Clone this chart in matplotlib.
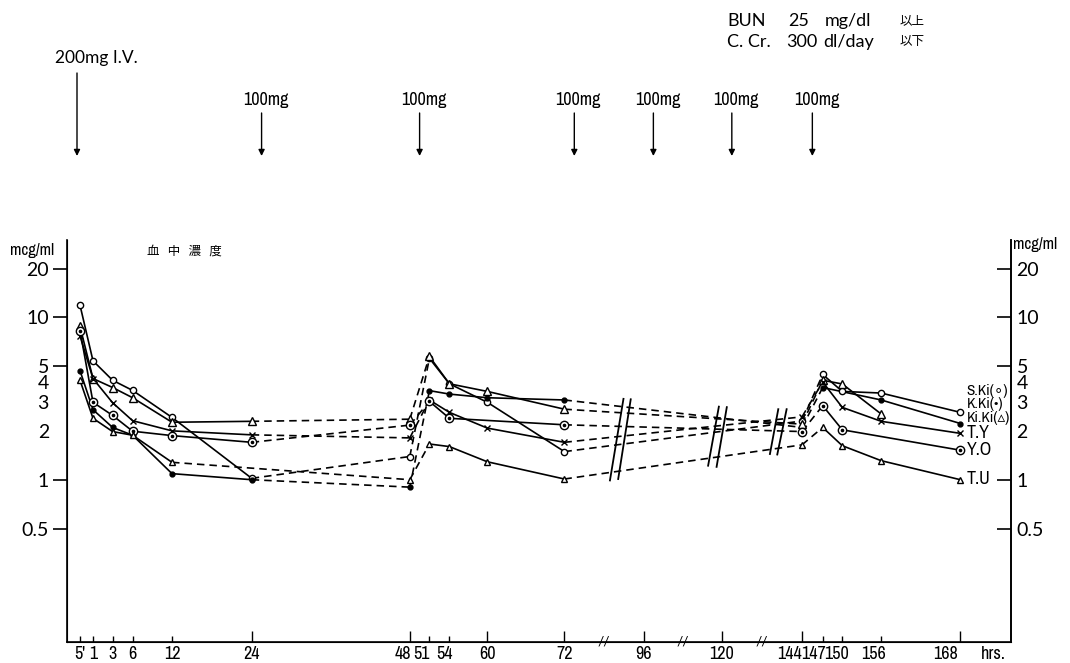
import numpy as np
import matplotlib
matplotlib.use("Agg")
import matplotlib.pyplot as plt
from matplotlib.transforms import blended_transform_factory
from matplotlib import font_manager
import logging
logging.getLogger('matplotlib.font_manager').setLevel(logging.ERROR)

plt.rcParams['font.family'] = ['Lato', 'Noto Sans CJK JP', 'DejaVu Sans']

# look for a narrow/condensed face for the crowded labels
NARROW_FACE = None
for f in font_manager.fontManager.ttflist:
    nm = f.name.lower()
    if ('narrow' in nm or 'condensed' in nm) and f.style == 'normal':
        NARROW_FACE = (f.name, 'normal')
        break
if NARROW_FACE is None:
    for f in font_manager.fontManager.ttflist:
        if str(f.stretch) in ('condensed', 'semi-condensed', 'extra-condensed') and f.style == 'normal':
            NARROW_FACE = (f.name, f.stretch)
            break
if NARROW_FACE is None:
    NARROW_FACE = ('Lato', 'normal')
NARROW = dict(family=[NARROW_FACE[0], 'Lato', 'DejaVu Sans'], stretch=NARROW_FACE[1])

# ---------------- data (hours, mcg/ml) ----------------
MIN5 = 5 / 60
t_ski = [MIN5, 1, 3, 6, 12, 24, 48, 51, 54, 60, 72, 144, 147, 150, 156, 168]
v_ski = [11.9, 5.4, 4.1, 3.55, 2.42, 1.02, 1.39, 5.6, 3.9, 3.0, 1.49, 2.3, 4.45, 3.5, 3.42, 2.6]

t_kki = [MIN5, 1, 3, 6, 12, 24, 48, 51, 54, 60, 72, 144, 147, 156, 168]
v_kki = [4.7, 2.7, 2.1, 1.88, 1.09, 1.0, 0.9, 3.54, 3.37, 3.2, 3.1, 2.1, 3.7, 3.1, 2.22]

t_kiki = [MIN5, 1, 3, 6, 12, 24, 48, 51, 54, 60, 72, 144, 147, 150, 156]
v_kiki = [8.8, 4.2, 3.7, 3.2, 2.26, 2.29, 2.36, 5.75, 3.9, 3.5, 2.72, 2.2, 4.1, 3.89, 2.54]

t_ty = [MIN5, 1, 3, 6, 12, 24, 48, 51, 54, 60, 72, 144, 147, 150, 156, 168]
v_ty = [7.7, 4.2, 2.98, 2.31, 2.0, 1.89, 1.81, 3.1, 2.6, 2.08, 1.70, 2.44, 4.0, 2.79, 2.29, 1.93]

t_yo = [MIN5, 1, 3, 6, 12, 24, 48, 51, 54, 72, 144, 147, 150, 168]
v_yo = [8.3, 3.0, 2.49, 1.99, 1.87, 1.70, 2.17, 3.04, 2.39, 2.18, 1.98, 2.86, 2.03, 1.52]

t_tu = [MIN5, 1, 3, 6, 12, 48, 51, 54, 60, 72, 144, 147, 150, 156, 168]
v_tu = [4.1, 2.39, 1.98, 1.88, 1.28, 1.0, 1.66, 1.6, 1.29, 1.01, 1.64, 2.1, 1.62, 1.31, 1.0]

legend_labels = ["S.Ki(∘)", "K.Ki(•)", "Ki.Ki(▵)", "T.Y", "Y.O", "T.U"]
legend_y = [3.53, 2.94, 2.41, 1.95, 1.53, 1.01]

x_tick_hours = [MIN5, 1, 3, 6, 12, 24, 48, 51, 54, 60, 72, 96, 120, 144, 147, 150, 156, 168]
x_tick_labels = ["5'", "1", "3", "6", "12", "24", "48", "51", "54", "60", "72", "96", "120",
                 "144", "147", "150", "156", "168"]
x_major_hours = [24, 48, 60, 72, 96, 120, 144, 168]
# hand-lettered labels sit a little left of some ticks (pixels)
x_label_shift = {48: -7, 51: -8, 54: -5, 144: -12, 147: -9, 150: -6, 156: -8, 168: -15}

y_major = [0.5, 1, 5, 10, 20]
y_major_labels = ['0.5', '1', '5', '10', '20']
y_minor = [2, 3, 4]
y_minor_labels = ['2', '3', '4']

dose_hours = [0, 25.5, 49.5, 75, 99, 123, 145.5]
dose_labels = ["200mg I.V.", "100mg", "100mg", "100mg", "100mg", "100mg", "100mg"]

# segments within these windows are solid, else dashed
solid_windows = [(0, 24), (51, 72), (147, 168)]

# axis break marks (hours)
axis_breaks = [84, 108, 132]
slash_lines = [((85.8, 0.99), (89.9, 3.15)), ((88.3, 1.01), (92.1, 3.13)),
               ((115.8, 1.22), (119.1, 2.82)), ((118.4, 1.20), (121.5, 2.80)),
               ((134.4, 1.44), (136.9, 2.72)), ((136.6, 1.43), (139.4, 2.72))]

# piecewise (broken) time axis
anchor_h = [-0.5, 0, MIN5, 1, 3, 6, 12, 24, 48, 51, 54, 60, 72, 96, 120, 144, 147, 150, 156, 168, 176]
anchor_p = [67, 77, 80, 93, 112.6, 132.6, 172, 251.7, 409.8, 429.4, 449.4, 487.3, 564.4,
            643.6, 721.8, 802, 822.7, 842.3, 881.2, 960.4, 1011]


def fwd(x):
    return np.interp(x, anchor_h, anchor_p)


def inv(p):
    return np.interp(p, anchor_p, anchor_h)


W, H = 1070, 663
fig = plt.figure(figsize=(W / 100, H / 100), dpi=100)
ax = fig.add_axes([67 / W, 1 - 642 / H, (1011 - 67) / W, (642 - 240) / H])
ax.set_xscale('function', functions=(fwd, inv))
ax.set_yscale('log')
ax.set_xlim(-0.5, 176)
ax.set_ylim(0.1, 30)

for s in ['left', 'right', 'bottom']:
    ax.spines[s].set_linewidth(1.2)
ax.spines['top'].set_visible(False)

LW = 1.2
DASH = (0, (4.5, 3))


def is_solid(a, b):
    return any(lo <= a <= hi and lo <= b <= hi for lo, hi in solid_windows)


series = [
    (t_ski, v_ski, dict(marker='o', ms=4.5, mfc='white')),
    (t_kki, v_kki, dict(marker='o', ms=3.5, mfc='black')),
    (t_kiki, v_kiki, dict(marker='^', ms=6, mfc='white')),
    (t_ty, v_ty, dict(marker='x', ms=5, mfc='black')),
    (t_yo, v_yo, dict(marker='o', ms=6, mfc='white')),
    (t_tu, v_tu, dict(marker='^', ms=4.5, mfc='white')),
]

for t, v, mk in series:
    for i in range(len(t) - 1):
        ls = '-' if is_solid(t[i], t[i + 1]) else DASH
        ax.plot([t[i], t[i + 1]], [v[i], v[i + 1]], color='black', lw=LW, ls=ls,
                solid_capstyle='butt', zorder=2)
    ax.plot(t, v, ls='none', color='black', mec='black', mew=1.0, zorder=3, **mk)

# center dots for Y.O
ax.plot(t_yo, v_yo, ls='none', marker='o', ms=1.6, color='black', zorder=4)

for (h0, v0), (h1, v1) in slash_lines:
    ax.plot([h0, h1], [v0, v1], color='black', lw=1.3, zorder=2)

# y ticks (left: outward, right: inward)
ax.set_yticks(y_major)
ax.set_yticklabels(y_major_labels)
ax.set_yticks(y_minor, minor=True)
ax.set_yticklabels(y_minor_labels, minor=True)
ax.tick_params(axis='y', which='major', direction='out', length=10, width=1.2,
               labelsize=14, pad=3)
ax.tick_params(axis='y', which='minor', length=0, labelsize=14, pad=13)

ax2 = ax.twinx()
ax2.set_yscale('log')
ax2.set_ylim(0.1, 30)
ax2.spines['top'].set_visible(False)
ax2.spines['right'].set_linewidth(1.2)
ax2.set_yticks(y_major)
ax2.set_yticklabels(y_major_labels)
ax2.set_yticks(y_minor, minor=True)
ax2.set_yticklabels(y_minor_labels, minor=True)
ax2.tick_params(axis='y', which='major', direction='in', length=10, width=1.2,
                labelsize=14, pad=4)
ax2.tick_params(axis='y', which='minor', length=0, labelsize=14, pad=4)

# x ticks (marks from the axis, labels drawn as texts so they can follow the hand lettering)
minor_h = [h for h in x_tick_hours if h not in x_major_hours]
ax.set_xticks(x_major_hours)
ax.set_xticks(minor_h, minor=True)
ax.tick_params(axis='x', which='both', labelbottom=False)
ax.tick_params(axis='x', which='major', direction='in', length=8, width=1.0)
ax.tick_params(axis='x', which='minor', direction='in', length=4, width=1.0)

xl_size = 13 if NARROW_FACE[0] != 'Lato' else 10
for h, lab in zip(x_tick_hours, x_tick_labels):
    ax.annotate(lab, xy=(h, 0), xycoords=('data', 'axes fraction'),
                xytext=(x_label_shift.get(h, 0), -4), textcoords='offset pixels',
                ha='center', va='top', fontsize=xl_size, annotation_clip=False, **NARROW)
ax.annotate("hrs.", xy=(168, 0), xycoords=('data', 'axes fraction'),
            xytext=(33, -4), textcoords='offset pixels', ha='center', va='top',
            fontsize=13, annotation_clip=False, **NARROW)

bt = blended_transform_factory(ax.transData, ax.transAxes)
for h in axis_breaks:
    ax.text(h, 0.0, "//", transform=bt, ha='center', va='center', fontsize=10,
            clip_on=False)

# series labels at right
for lab, y in zip(legend_labels, legend_y):
    ax.text(169.0, y, lab, ha='left', va='center', fontsize=11 if '(' in lab else 13, **NARROW)

# axis unit labels
fig.text(10 / W, 1 - 250 / H, "mcg/ml", ha='left', va='center', fontsize=12, **NARROW)
fig.text(1013 / W, 1 - 244 / H, "mcg/ml", ha='left', va='center', fontsize=12, **NARROW)
fig.text(147 / W, 1 - 251 / H, "血   中   濃   度", ha='left', va='center', fontsize=9,
         family=['Noto Sans CJK JP'])

# dose arrows
for h, lab in zip(dose_hours, dose_labels):
    top = 1 - 73 / H if lab.startswith("200") else 1 - 113 / H
    ax.annotate("", xy=(h, 1 - 156 / H), xytext=(h, top),
                xycoords=('data', 'figure fraction'), textcoords=('data', 'figure fraction'),
                arrowprops=dict(arrowstyle='-|>', color='black', lw=1.0,
                                mutation_scale=9, shrinkA=0, shrinkB=0),
                annotation_clip=False)
    if lab.startswith("200"):
        ax.annotate(lab, xy=(h, 1 - 58 / H), xycoords=('data', 'figure fraction'),
                    xytext=(-22, 0), textcoords='offset pixels', ha='left', va='center',
                    fontsize=12.5, annotation_clip=False)
    else:
        ax.annotate(lab, xy=(h, 1 - 100 / H), xycoords=('data', 'figure fraction'),
                    xytext=(4, 0), textcoords='offset pixels', ha='center', va='center',
                    fontsize=13, annotation_clip=False, **NARROW)

# condition text
cond_font = dict(ha='left', va='center', fontsize=13)
fig.text(727 / W, 1 - 21 / H, "BUN", **cond_font)
fig.text(788 / W, 1 - 21 / H, "25", **cond_font)
fig.text(825 / W, 1 - 21 / H, "mg/dl", **cond_font)
fig.text(900 / W, 1 - 21 / H, "以上", ha='left', va='center', fontsize=9,
         family=['Noto Sans CJK JP'])
fig.text(727 / W, 1 - 42 / H, "C. Cr.", **cond_font)
fig.text(786 / W, 1 - 42 / H, "300", **cond_font)
fig.text(823 / W, 1 - 42 / H, "dl/day", **cond_font)
fig.text(900 / W, 1 - 42 / H, "以下", ha='left', va='center', fontsize=9,
         family=['Noto Sans CJK JP'])

fig.savefig("out.png", dpi=100)
